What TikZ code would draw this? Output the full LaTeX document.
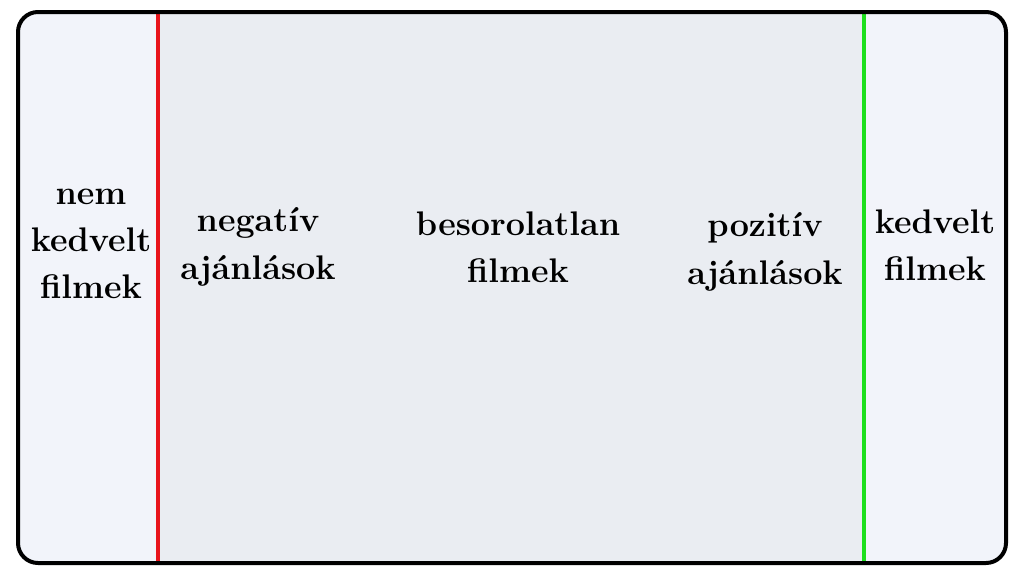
\documentclass[tikz,border=0pt]{standalone}
\definecolor{outerfill}{HTML}{F2F4FA}
\definecolor{midfill}{HTML}{EAEDF2}
\definecolor{redline}{HTML}{E8141B}
\definecolor{greenline}{HTML}{1EE01E}
\begin{document}
\begin{tikzpicture}[x=0.75pt,y=-0.75pt,
  lbl/.style={align=center,font=\fontsize{25.6}{35.5}\selectfont\bfseries}]
\useasboundingbox (0,0) rectangle (1024,576);
\fill[white] (0,0) rectangle (1024,576);
\fill[outerfill,rounded corners=15pt] (18,12) rectangle (1006,563);
\fill[midfill] (158,12) rectangle (864,563);
\draw[redline,line width=2.4pt] (158,12) -- (158,563);
\draw[greenline,line width=2.4pt] (864,12) -- (864,563);
\draw[black,line width=3pt,rounded corners=15pt] (18,12) rectangle (1006,563);
\node[lbl] (nk) at (91,244) {nem\\kedvelt\\filmek};
\node[lbl] (na) at (258,247) {negatív\\ajánlások};
\node[lbl] (bf) at (518,247) {besorolatlan\\filmek};
\node[lbl] (pa) at (765,252) {pozitív\\ajánlások};
\node[lbl] (kf) at (935,245) {kedvelt\\filmek};
\end{tikzpicture}
\end{document}
